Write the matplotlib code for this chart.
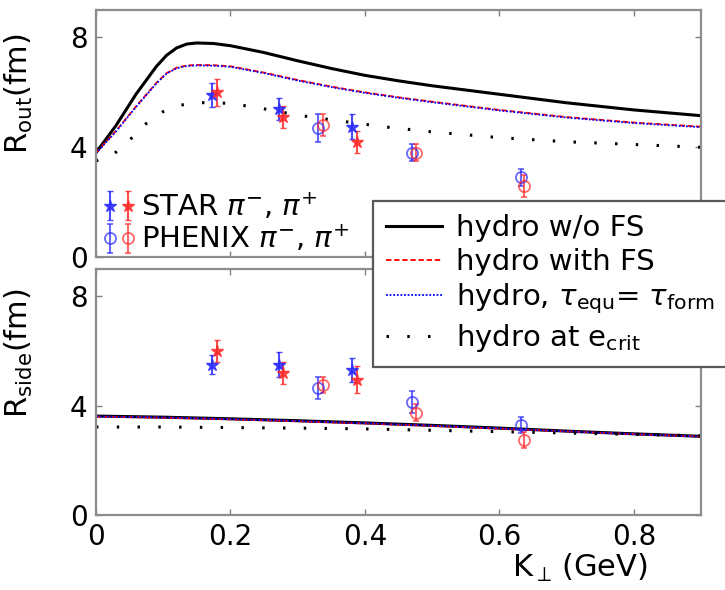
import matplotlib
matplotlib.use('Agg')
import matplotlib.pyplot as plt
from matplotlib.legend_handler import HandlerTuple
import numpy as np

plt.rcParams['font.family'] = ['DejaVu Sans']
plt.rcParams['mathtext.fontset'] = 'dejavusans'

# hydro curves vs K_perp (GeV)
kt_rise = [0, 0.03, 0.06, 0.09, 0.105, 0.12, 0.135, 0.15, 0.175, 0.2, 0.25, 0.3,
           0.35, 0.4, 0.45, 0.5, 0.6, 0.7, 0.8, 0.9]
rout_noFS = [3.8, 4.8, 5.95, 6.95, 7.35, 7.62, 7.76, 7.8, 7.78, 7.7, 7.45, 7.15,
             6.87, 6.62, 6.42, 6.24, 5.93, 5.62, 5.36, 5.15]
rout_FS = [3.8, 4.6, 5.5, 6.35, 6.7, 6.9, 6.98, 7.0, 6.99, 6.95, 6.72, 6.45,
           6.21, 6.0, 5.82, 5.66, 5.36, 5.1, 4.9, 4.75]
rout_equ = [3.78, 4.58, 5.48, 6.33, 6.68, 6.88, 6.96, 6.98, 6.97, 6.93, 6.7, 6.43,
            6.19, 5.98, 5.8, 5.64, 5.34, 5.08, 4.88, 4.73]

kt_crit = [0, 0.025, 0.05, 0.075, 0.1, 0.125, 0.15, 0.2, 0.25, 0.3, 0.35, 0.43,
           0.5, 0.6, 0.7, 0.8, 0.9]
rout_crit = [3.5, 3.72, 4.26, 4.87, 5.3, 5.53, 5.63, 5.6, 5.4, 5.17, 5.0, 4.74,
             4.56, 4.35, 4.2, 4.1, 4.0]

kt_side = [0, 0.1, 0.2, 0.3, 0.4, 0.5, 0.6, 0.7, 0.8, 0.9]
rside_noFS = [3.62, 3.58, 3.52, 3.45, 3.37, 3.28, 3.18, 3.07, 2.97, 2.88]
rside_FS = [3.6, 3.56, 3.5, 3.43, 3.35, 3.26, 3.16, 3.06, 2.96, 2.87]
rside_equ = [3.61, 3.57, 3.51, 3.44, 3.36, 3.27, 3.17, 3.06, 2.96, 2.87]
rside_crit = [3.22, 3.22, 3.2, 3.18, 3.15, 3.1, 3.05, 3.0, 2.95, 2.9]

# STAR / PHENIX pion data
kt_star_m = [0.173, 0.272, 0.381]
kt_star_p = [0.180, 0.278, 0.388]
kt_phx_m = [0.330, 0.470, 0.632]
kt_phx_p = [0.338, 0.476, 0.637]

rout_star_m = [5.9, 5.4, 4.75]
rout_star_m_err = [0.45, 0.4, 0.45]
rout_star_p = [6.0, 5.1, 4.2]
rout_star_p_err = [0.5, 0.4, 0.4]
rout_phx_m = [4.7, 3.8, 2.9]
rout_phx_m_err = [0.5, 0.3, 0.3]
rout_phx_p = [4.8, 3.8, 2.6]
rout_phx_p_err = [0.4, 0.3, 0.4]

rside_star_m = [5.5, 5.5, 5.3]
rside_star_m_err = [0.35, 0.45, 0.45]
rside_star_p = [6.0, 5.2, 4.95]
rside_star_p_err = [0.4, 0.4, 0.5]
rside_phx_m = [4.65, 4.15, 3.3]
rside_phx_m_err = [0.4, 0.4, 0.3]
rside_phx_p = [4.75, 3.75, 2.75]
rside_phx_p_err = [0.3, 0.3, 0.3]

BLUE = '#2a2aff'
RED = '#ff2a2a'

fig = plt.figure(figsize=(7.25, 5.9), dpi=100)
ax1 = fig.add_axes([0.1324, 0.5644, 0.8345, 0.4186])
ax2 = fig.add_axes([0.1324, 0.1271, 0.8345, 0.4169])


def pts(ax, x, y, e, color, filled):
    if filled:
        return ax.errorbar(x, y, yerr=e, fmt='*', ms=9, color=color, mec=color,
                           ecolor=color, elinewidth=1.5, capsize=2, alpha=0.85,
                           zorder=4)
    return ax.errorbar(x, y, yerr=e, fmt='o', ms=8, mfc='none', mec=color,
                       mew=1.3, color=color, ecolor=color, elinewidth=1.5,
                       capsize=2, alpha=0.7, zorder=4)


def style(ax):
    ax.set_xlim(0, 0.9)
    ax.set_ylim(0, 9)
    ax.set_yticks([0, 4, 8])
    ax.set_xticks([0, 0.2, 0.4, 0.6, 0.8])
    ax.tick_params(direction='in', length=4, width=1, colors='0.5',
                   labelcolor='black', labelsize=20, top=True, right=True, pad=6)
    for s in ax.spines.values():
        s.set_color('0.55')
        s.set_linewidth(1.6)


# R_out
ax1.plot(kt_rise, rout_noFS, color='black', lw=2.2, label='hydro w/o FS')
ax1.plot(kt_rise, rout_FS, color='red', lw=1.3, ls=(0, (3, 1.5)), label='hydro with FS')
ax1.plot(kt_rise, rout_equ, color='blue', lw=1.3, ls=(0, (1, 1)),
         label=r'hydro, $\tau_{\rm equ}$= $\tau_{\rm form}$')
ax1.plot(kt_crit, rout_crit, color='black', lw=2.2, ls=(0, (0.8, 6)),
         label=r'hydro at e$_{\rm crit}$')

sm = pts(ax1, kt_star_m, rout_star_m, rout_star_m_err, BLUE, True)
sp = pts(ax1, kt_star_p, rout_star_p, rout_star_p_err, RED, True)
pm = pts(ax1, kt_phx_m, rout_phx_m, rout_phx_m_err, BLUE, False)
pp = pts(ax1, kt_phx_p, rout_phx_p, rout_phx_p_err, RED, False)

style(ax1)
ax1.set_xticklabels([])
ax1.set_ylabel(r'R$_{\rm out}$(fm)', fontsize=22)
ax1.yaxis.set_label_coords(-0.1, 0.66)

ax1.legend([(sm, sp), (pm, pp)],
           [r'STAR $\pi^{-}$, $\pi^{+}$', r'PHENIX $\pi^{-}$, $\pi^{+}$'],
           handler_map={tuple: HandlerTuple(ndivide=None, pad=0)},
           loc='lower left', bbox_to_anchor=(-0.02, -0.06), frameon=False,
           fontsize=21, handlelength=1.2, handletextpad=0.15, labelspacing=0.05,
           borderaxespad=0.2)

# R_side
ax2.plot(kt_side, rside_noFS, color='black', lw=2.2)
ax2.plot(kt_side, rside_FS, color='red', lw=1.3, ls=(0, (3, 1.5)))
ax2.plot(kt_side, rside_equ, color='blue', lw=1.3, ls=(0, (1, 1)))
ax2.plot(kt_side, rside_crit, color='black', lw=2.2, ls=(0, (0.8, 6)))

pts(ax2, kt_star_m, rside_star_m, rside_star_m_err, BLUE, True)
pts(ax2, kt_star_p, rside_star_p, rside_star_p_err, RED, True)
pts(ax2, kt_phx_m, rside_phx_m, rside_phx_m_err, BLUE, False)
pts(ax2, kt_phx_p, rside_phx_p, rside_phx_p_err, RED, False)

style(ax2)
ax2.set_xticklabels(['0', '0.2', '0.4', '0.6', '0.8'])
ax2.set_ylabel(r'R$_{\rm side}$(fm)', fontsize=22)
ax2.yaxis.set_label_coords(-0.1, 0.66)
ax2.set_xlabel(r'K$_\perp$$\,$(GeV)', fontsize=22)
ax2.xaxis.set_label_coords(0.8, -0.15)

# model legend sits across both panels and runs off the right edge
leg = fig.legend(*ax1.get_legend_handles_labels(), loc='upper left',
                 bbox_to_anchor=(373 / 725, 1 - 201 / 590), fontsize=21,
                 handlelength=1.9, handletextpad=0.5, labelspacing=0.2,
                 borderpad=0.45, borderaxespad=0, fancybox=False, framealpha=1)
leg.get_frame().set_edgecolor('0.35')
leg.get_frame().set_linewidth(1.6)

fig.savefig('out.png', dpi=100)
